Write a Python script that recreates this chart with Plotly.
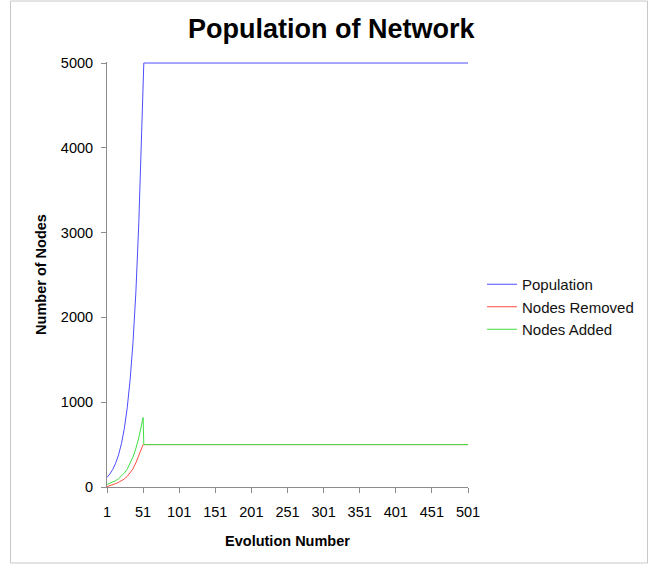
import plotly.graph_objects as go

steps = [1, 5, 9, 13, 17, 21, 25, 29, 33, 37, 41, 45, 49, 51, 52, 501]
population = [114, 154, 208, 281, 379, 512, 691, 934, 1262, 1703, 2299, 3104, 4190, 4870, 5000, 5000]
nodes_removed = [5, 15, 27, 40, 55, 72, 95, 125, 165, 215, 285, 370, 470, 500, 500, 500]
nodes_added = [30, 42, 56, 75, 98, 128, 165, 210, 275, 355, 455, 580, 740, 820, 500, 500]

x_ticks = [1, 51, 101, 151, 201, 251, 301, 351, 401, 451, 501]
y_ticks = [0, 1000, 2000, 3000, 4000, 5000]

FONT = "Liberation Sans, Arial, Helvetica, sans-serif"

fig = go.Figure()
fig.add_trace(go.Scatter(x=steps, y=population, mode="lines", name="Population",
                         line=dict(color="#4D4DFF", width=1)))
fig.add_trace(go.Scatter(x=steps, y=nodes_removed, mode="lines", name="Nodes Removed",
                         line=dict(color="#FF4D40", width=1)))
fig.add_trace(go.Scatter(x=steps, y=nodes_added, mode="lines", name="Nodes Added",
                         line=dict(color="#40E040", width=1)))

axis_color = "#8c8c8c"
fig.update_layout(
    width=656, height=566,
    margin=dict(l=107, r=188, t=62, b=79),
    paper_bgcolor="white", plot_bgcolor="white",
    font=dict(family=FONT, size=14.5, color="black"),
    title=dict(text="<b>Population of Network</b>", x=0.505, xref="container",
               y=1 - 29 / 566, yref="container", yanchor="middle", xanchor="center",
               font=dict(family=FONT, size=27, color="black")),
    xaxis=dict(range=[1, 501], tickvals=x_ticks, ticktext=[str(v) for v in x_ticks],
               showgrid=False, zeroline=False, showline=True, linecolor=axis_color,
               linewidth=1, ticks="outside", ticklen=5, tickcolor=axis_color,
               ticklabelstandoff=7,
               title=dict(text="<b>Evolution Number</b>", standoff=16,
                          font=dict(family=FONT, size=14.5))),
    yaxis=dict(range=[0, 5012], tickvals=y_ticks, showgrid=False, zeroline=False,
               showline=True, linecolor=axis_color, linewidth=1, ticks="outside",
               ticklen=5, tickcolor=axis_color, ticklabelstandoff=5,
               title=dict(text="<b>Number of Nodes</b>", standoff=10,
                          font=dict(family=FONT, size=14.5))),
    legend=dict(x=(482 - 107) / 361, y=(487 - 307) / 425, xanchor="left", yanchor="middle",
                font=dict(family=FONT, size=15, color="#111111"), bgcolor="rgba(0,0,0,0)"),
    shapes=[dict(type="rect", xref="paper", yref="paper",
                 x0=(10.5 - 107) / 361, x1=(647.5 - 107) / 361,
                 y0=(487 - 563) / 425, y1=(487 - 1) / 425,
                 line=dict(color="#c8c8c8", width=1), fillcolor="rgba(0,0,0,0)",
                 layer="below")],
)

fig.write_html("out.html", config={"displayModeBar": False},
               post_script="document.body.style.margin='0';document.body.style.padding='0';")
